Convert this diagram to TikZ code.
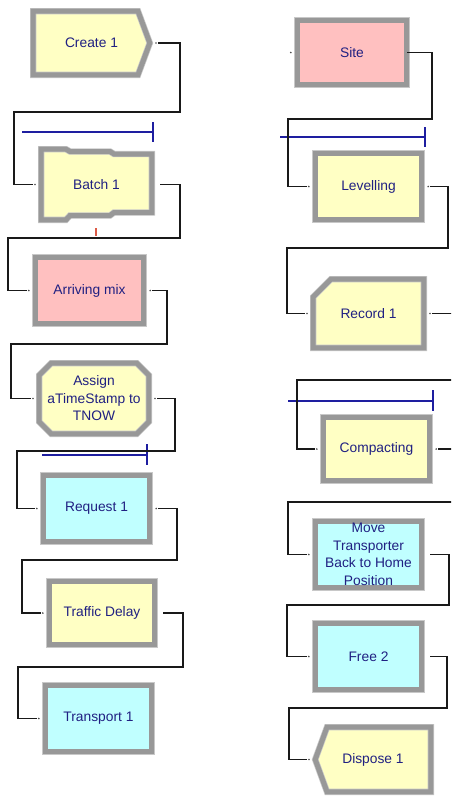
\documentclass[tikz,border=0pt]{standalone}
\usepackage{fontspec}
\setmainfont{Liberation Sans}
\usetikzlibrary{calc}
\definecolor{modyellow}{RGB}{255,255,196}
\definecolor{modpink}{RGB}{255,192,192}
\definecolor{modcyan}{RGB}{192,255,255}
\definecolor{framegray}{RGB}{152,152,152}
\definecolor{frameedge}{RGB}{200,200,200}
\definecolor{txtblue}{RGB}{32,32,130}
\definecolor{qblue}{RGB}{30,30,160}
\definecolor{cline}{RGB}{25,25,25}
\definecolor{redmark}{RGB}{220,90,70}
\begin{document}
\begin{tikzpicture}[x=1pt,y=-1pt,
  frame/.style={fill=#1, draw=frameedge, line width=0.7pt, double=framegray, double distance=5pt},
  modtext/.style={rectangle, inner sep=0pt, font=\fontsize{13.8}{17.5}\selectfont, text=txtblue, align=center},
  mod/.style={modtext, frame=#1},
  conn/.style={draw=cline, line width=1.4pt, shorten <=8pt, shorten >=8pt},
  queue/.style={draw=qblue, line width=1.3pt},
  portdot/.style={fill=black!70}
]
\useasboundingbox (0,0) rectangle (451,796);
\fill[white] (0,0) rectangle (451,796);
\clip (0,0) rectangle (451,796);

% ---------- left column ----------
\path[frame=modyellow] (33.2,11.2) -- (138,11.2) -- (149.8,43) -- (138,74.8) -- (33.2,74.8) -- cycle;
\node[modtext, minimum width=116.6pt, minimum height=63.6pt] (create) at (91.5,43) {Create 1};

\path[frame=modyellow] (41.2,149.2) -- (66,149.2) -- (70,151.5) -- (110,151.5) -- (114,154) -- (151.8,154)
  -- (151.8,212.5) -- (114,212.5) -- (110,215.5) -- (70,215.5) -- (66,219.8) -- (41.2,219.8) -- cycle;
\node[modtext, minimum width=110.6pt, minimum height=70.6pt] (batch) at (96.5,184.5) {Batch 1};

\node[mod=modpink, minimum width=108.6pt, minimum height=66.6pt] (arriving) at (89.5,290.5) {Arriving mix};

\path[frame=modyellow] (51.2,363.2) -- (136.8,363.2) -- (148.8,375.2) -- (148.8,421.8) -- (136.8,433.8)
  -- (51.2,433.8) -- (39.2,421.8) -- (39.2,375.2) -- cycle;
\node[modtext, minimum width=109.6pt, minimum height=70.6pt] (assign) at (94,398.5) {Assign\\aTimeStamp to\\TNOW};

\node[mod=modcyan, minimum width=106.6pt, minimum height=66.6pt] (request) at (96.5,508.5) {Request 1};
\node[mod=modyellow, minimum width=105.6pt, minimum height=63.6pt] (traffic) at (102,613) {Traffic Delay};
\node[mod=modcyan, minimum width=106.6pt, minimum height=66.6pt] (transport) at (98.5,718.5) {Transport 1};

% ---------- right column ----------
\node[mod=modpink, minimum width=109.6pt, minimum height=64.6pt] (site) at (352,52.5) {Site};
\node[mod=modyellow, minimum width=106.6pt, minimum height=66.6pt] (levelling) at (368.5,186.5) {Levelling};

\path[frame=modyellow] (331,279.2) -- (423.8,279.2) -- (423.8,347.8) -- (313.2,347.8) -- (313.2,297) -- cycle;
\node[modtext, minimum width=110.6pt, minimum height=68.6pt] (record) at (368.5,313.5) {Record 1};

\node[mod=modyellow, minimum width=106.6pt, minimum height=63.6pt] (compacting) at (376.5,449) {Compacting};
\node[mod=modcyan, minimum width=106.6pt, minimum height=66.6pt] (move) at (368.5,554.5) {Move\\Transporter\\Back to Home\\Position};
\node[mod=modcyan, minimum width=106.6pt, minimum height=66.6pt] (free) at (368.5,656.5) {Free 2};

\path[frame=modyellow] (327,727.2) -- (430.8,727.2) -- (430.8,791.8) -- (327,791.8) -- (315.2,759.5) -- cycle;
\node[modtext, minimum width=115.6pt, minimum height=64.6pt] (dispose) at (373,759.5) {Dispose 1};

% ---------- queues ----------
\draw[queue] (22,132) -- (153,132);  \draw[queue] (153,122) -- (153,142);
\draw[queue] (42,455) -- (147,455);  \draw[queue] (147,444) -- (147,465);
\draw[queue] (280,137) -- (425,137); \draw[queue] (425,127) -- (425,147);
\draw[queue] (288,401) -- (433,401); \draw[queue] (433,390) -- (433,411);

% ---------- connectors ----------
\draw[conn] (create.east) -| (180,112) -- (14,112) |- (batch.west);
\draw[conn] (batch.east) -| (180,238) -- (8,238) |- (arriving.west);
\draw[conn] (arriving.east) -| (167,344) -- (11,344) |- (assign.west);
\draw[conn] (assign.east) -| (175,451) -- (17,451) |- (request.west);
\draw[conn] (request.east) -| (177,560) -- (22,560) |- (traffic.west);
\draw[conn] (traffic.east) -| (183,667) -- (18,667) |- (transport.west);

\draw[conn, shorten <=0pt] (site.east) -| (432,119) -- (288,119) |- (levelling.west);
\draw[conn] (levelling.east) -| (448,248) -- (287,248) |- (record.west);
\draw[conn] (record.east) -| (462,380) -- (297,380) |- (compacting.west);
\draw[conn] (compacting.east) -| (462,502) -- (288,502) |- (move.west);
\draw[conn] (move.east) -| (449,605) -- (287,605) |- (free.west);
\draw[conn] (free.east) -| (447,708) -- (289,708) |- (dispose.west);

% ---------- port dots ----------
\foreach \m in {batch,arriving,assign,request,traffic,transport,site,levelling,record,compacting,move,free,dispose}
  \fill[portdot] ($(\m.west)+(-6,0)$) circle (0.9pt);
\foreach \m in {create,arriving,assign,request,levelling,record,compacting}
  \fill[portdot] ($(\m.east)+(6,0)$) circle (0.9pt);

% small counter mark under Batch
\draw[redmark, line width=1.3pt] (96,228) -- (96,236);
\end{tikzpicture}
\end{document}
